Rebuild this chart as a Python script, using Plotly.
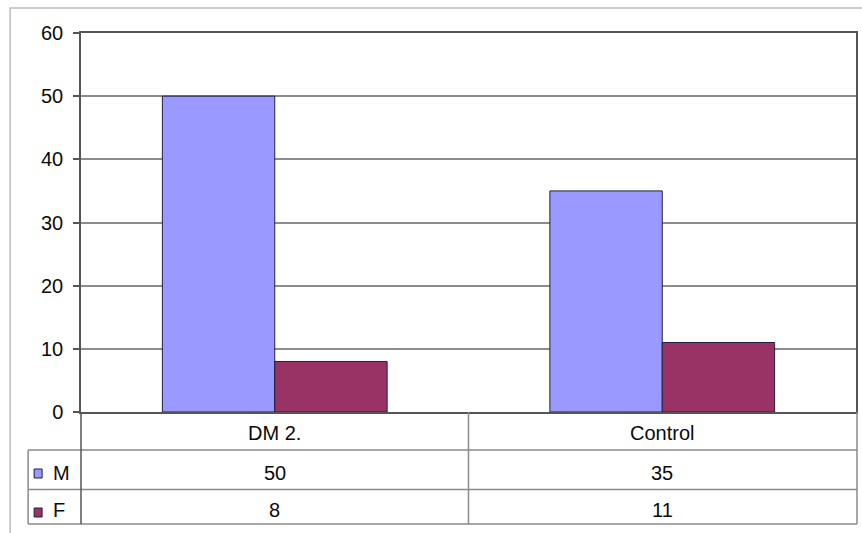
import plotly.graph_objects as go

categories = ["DM 2.", "Control"]
series_names = ["M", "F"]
values_m = [50, 35]
values_f = [8, 11]
y_ticks = [0, 10, 20, 30, 40, 50, 60]

colors = {"M": "#9999FF", "F": "#993366"}

W, H = 862, 533
L, R, T, B = 81, 858, 33, 412  # plot area in pixels
PW, PH = R - L, B - T


def px(xp):
    return (xp - L) / PW


def py(yp):
    return (B - yp) / PH


fig = go.Figure()
for name, vals in zip(series_names, [values_m, values_f]):
    fig.add_trace(go.Bar(
        x=categories, y=vals, name=name,
        marker=dict(color=colors[name], line=dict(color="#202040", width=1)),
        showlegend=False,
    ))

font_family = "Liberation Sans, Arial, sans-serif"
fs = 20
txt_col = "#0a0a0a"

shapes = []
# outer chart border
shapes.append(dict(type="rect", xref="paper", yref="paper",
                   x0=px(10), x1=px(875), y0=py(8), y1=py(545),
                   line=dict(color="#bdbdbd", width=1.5), layer="below"))
tbl_col = "#8a8a8a"
# table horizontal lines
for yy in [450, 489.5, 524]:
    shapes.append(dict(type="line", xref="paper", yref="paper",
                       x0=px(28), x1=px(859), y0=py(yy), y1=py(yy),
                       line=dict(color=tbl_col, width=1.5)))
# table vertical lines
shapes.append(dict(type="line", xref="paper", yref="paper",
                   x0=px(28), x1=px(28), y0=py(450), y1=py(524),
                   line=dict(color=tbl_col, width=1.5)))
shapes.append(dict(type="line", xref="paper", yref="paper",
                   x0=px(81), x1=px(81), y0=py(412), y1=py(524),
                   line=dict(color="#555555", width=1.5)))
shapes.append(dict(type="line", xref="paper", yref="paper",
                   x0=0.5, x1=0.5, y0=py(412), y1=py(524),
                   line=dict(color=tbl_col, width=1.5)))
shapes.append(dict(type="line", xref="paper", yref="paper",
                   x0=px(859), x1=px(859), y0=py(412), y1=py(524),
                   line=dict(color=tbl_col, width=1.5)))

annotations = []
# category row
for i, c in enumerate(categories):
    annotations.append(dict(text=c, xref="paper", yref="paper",
                            x=(i + 0.5) / len(categories), y=py(433),
                            showarrow=False, xanchor="center", yanchor="middle",
                            font=dict(size=fs, color=txt_col, family=font_family)))
# data rows
row_y = [472.5, 510]
key_y = [(469, 478), (508, 517)]
for r, (name, vals) in enumerate(zip(series_names, [values_m, values_f])):
    for i, v in enumerate(vals):
        annotations.append(dict(text=str(v), xref="paper", yref="paper",
                                x=(i + 0.5) / len(categories), y=py(row_y[r]),
                                showarrow=False, xanchor="center", yanchor="middle",
                                font=dict(size=fs, color=txt_col, family=font_family)))
    annotations.append(dict(text=name, xref="paper", yref="paper",
                            x=px(51), y=py(row_y[r]),
                            showarrow=False, xanchor="left", yanchor="middle",
                            font=dict(size=fs, color=txt_col, family=font_family)))
    shapes.append(dict(type="rect", xref="paper", yref="paper",
                       x0=px(34), x1=px(42), y0=py(key_y[r][0]), y1=py(key_y[r][1]),
                       fillcolor=colors[name], line=dict(color="#202040", width=1)))

fig.update_layout(
    width=W, height=H,
    margin=dict(l=L, r=W - R, t=T, b=H - B, pad=0),
    paper_bgcolor="white", plot_bgcolor="white",
    barmode="group", bargap=0.42, bargroupgap=0,
    shapes=shapes, annotations=annotations,
    font=dict(family=font_family, color=txt_col),
    xaxis=dict(showticklabels=False, ticks="", showgrid=False,
               showline=True, linecolor="#555555", linewidth=1.5, mirror=True,
               zeroline=False),
    yaxis=dict(range=[0, 60], tickvals=y_ticks, ticks="outside", ticklen=6,
               tickcolor="#555555", tickwidth=1.5,
               showline=True, linecolor="#555555", linewidth=1.5, mirror=True,
               showgrid=True, gridcolor="#8c8c8c", gridwidth=1.5,
               zeroline=False, ticklabelstandoff=6,
               tickfont=dict(size=fs, color=txt_col, family=font_family)),
)

fig.write_html("out.html")
